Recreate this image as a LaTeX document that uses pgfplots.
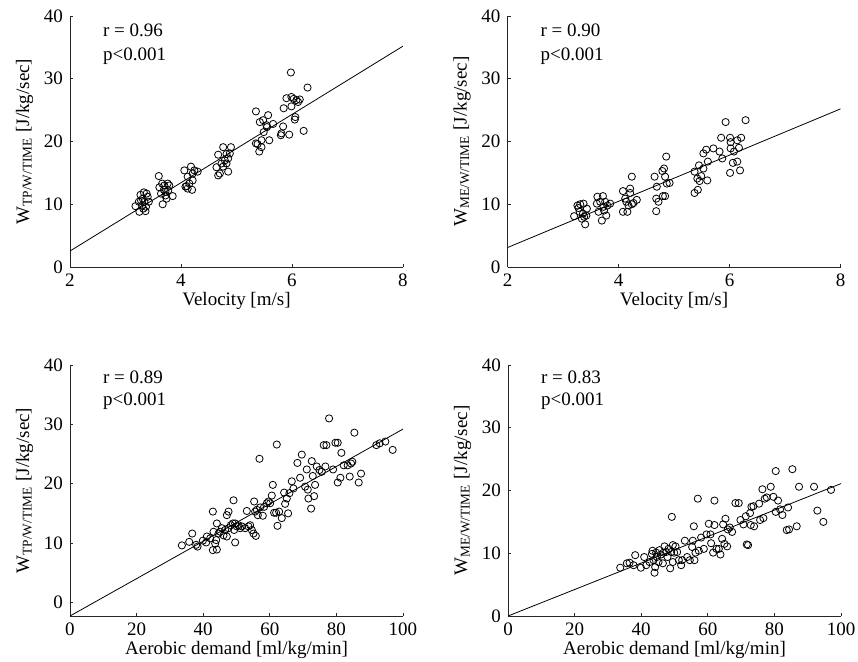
\documentclass[border=0pt]{standalone}
\usepackage{fontspec}
\setmainfont{Liberation Serif}
\usepackage{pgfplots}
\pgfplotsset{compat=1.18}
\newcommand\fs{\fontsize{9.5}{11.4}\selectfont}

\pgfplotsset{
  panel/.style={
    scale only axis, width=166.5pt, height=125.5pt,
    anchor=south west,
    axis x line*=bottom, axis y line*=left,
    axis line style={line width=0.4pt, black!85},
    tick align=inside, major tick length=1.5pt,
    every tick/.style={black!85, line width=0.4pt},
    ymax=40, ytick={0,10,20,30,40},
    tick label style={font=\fs},
    label style={font=\fs},
    xlabel shift=-4pt, ylabel shift=-1.5pt,
    /pgf/number format/assume math mode=true,
  },
  vel/.style={xmin=2, xmax=8, xtick={2,4,6,8}, ymin=0, xlabel={Velocity [m/s]}},
  aer/.style={xmin=0, xmax=100, xtick={0,20,40,60,80,100}, xlabel={Aerobic demand [ml/kg/min]}},
  dots/.style={only marks, mark=o, mark size=1.8pt, mark options={line width=0.4pt, black}},
  fit/.style={black, line width=0.4pt, no marks},
}

\begin{document}
\begin{tikzpicture}
\path[use as bounding box] (0,0) rectangle (429pt,-330.5pt);

% top left
\begin{axis}[panel, vel, at={(35pt,-133.5pt)},
  ylabel={W\textsubscript{TP/W/TIME} [J/kg/sec]}]
\addplot[dots] table {
x y
3.18 9.7
3.25 8.8
3.36 8.9
3.27 11.5
3.38 11.7
3.31 10.9
3.34 10.4
3.30 9.8
3.37 9.6
3.28 10.6
3.40 11.2
3.32 9.3
3.24 10.4
3.42 10.4
3.33 11.9
3.60 14.5
3.67 10.0
3.61 12.7
3.70 13.0
3.76 13.3
3.79 13.0
3.64 11.7
3.72 12.0
3.74 10.9
3.85 11.3
3.69 12.3
3.77 12.2
3.66 13.3
3.72 11.4
4.06 15.4
4.18 16.0
4.30 15.2
4.21 14.9
4.12 14.4
4.21 13.8
4.08 12.8
4.12 12.5
4.20 12.3
4.15 13.3
4.24 15.4
4.10 12.9
4.76 19.1
4.90 19.1
4.67 17.9
4.82 18.0
4.79 17.0
4.85 17.3
4.64 15.9
4.76 16.0
4.85 15.2
4.70 14.9
4.67 14.6
4.82 16.5
4.73 16.5
4.88 18.1
5.35 24.8
5.42 23.1
5.57 24.2
5.55 22.3
5.54 22.6
5.66 22.8
5.49 21.5
5.35 19.7
5.41 18.4
5.45 19.1
5.59 20.2
5.45 20.2
5.38 19.6
5.48 23.4
5.98 31.0
6.28 28.6
5.85 25.3
5.90 26.9
5.99 27.1
6.08 26.6
6.14 26.7
6.11 26.3
5.99 25.6
5.84 22.4
5.80 21.0
5.81 21.3
5.95 21.1
6.05 23.5
6.06 23.9
6.21 21.7
6.03 26.8
};
\addplot[fit] coordinates {(2,2.55) (8,35.2)};
\node[anchor=base west, font=\fs] at (rel axis cs:0.078,0.9175) {r = 0.96};
\node[anchor=base west, font=\fs] at (rel axis cs:0.078,0.821) {p<0.001};
\end{axis}

% top right
\begin{axis}[panel, vel, at={(253.75pt,-133.5pt)},
  ylabel={W\textsubscript{ME/W/TIME} [J/kg/sec]}]
\addplot[dots] table {
x y
3.20 8.1
3.28 9.4
3.31 10.0
3.37 10.1
3.40 6.8
3.34 7.7
3.43 9.3
3.36 8.5
3.30 8.8
3.38 8.0
3.26 9.8
3.42 8.2
3.62 11.2
3.72 11.3
3.67 10.4
3.76 10.4
3.64 8.8
3.70 7.4
3.78 8.2
3.73 9.6
3.80 9.8
3.85 10.1
3.61 10.1
3.74 9.0
4.24 14.4
4.21 12.5
4.21 11.8
4.08 12.1
4.12 10.9
4.08 8.8
4.16 8.8
4.18 9.8
4.24 10.0
4.33 10.7
4.14 10.4
4.27 10.2
4.86 17.6
4.65 14.4
4.82 15.7
4.79 15.3
4.84 14.4
4.87 13.3
4.69 12.8
4.92 13.4
4.68 10.9
4.72 10.4
4.80 11.3
4.84 11.3
4.68 8.9
5.37 11.8
5.43 12.3
5.45 16.2
5.37 15.2
5.42 14.1
5.49 14.5
5.53 15.7
5.58 18.7
5.53 18.1
5.61 16.8
5.60 13.8
5.46 13.7
5.71 18.9
5.93 23.1
6.29 23.4
5.85 20.6
6.01 20.6
6.02 19.9
6.14 20.2
6.21 20.6
5.82 18.4
5.87 17.3
6.02 18.9
6.08 18.4
6.17 19.0
6.06 16.6
6.14 16.8
6.01 15.0
6.19 15.4
};
\addplot[fit] coordinates {(2,3.1) (8,25.2)};
\node[anchor=base west, font=\fs] at (rel axis cs:0.078,0.9175) {r = 0.90};
\node[anchor=base west, font=\fs] at (rel axis cs:0.078,0.821) {p<0.001};
\end{axis}

% bottom left
\begin{axis}[panel, aer, ymin=-2.3, at={(35pt,-308pt)},
  ylabel={W\textsubscript{TP/W/TIME} [J/kg/sec]}]
\addplot[dots] table {
x y
33.6 9.6
35.8 10.2
36.7 11.6
37.9 9.7
38.3 9.4
39.9 10.4
40.9 10.1
41.1 11.1
42.1 10.8
42.9 15.3
42.9 8.8
44.1 8.9
43.6 9.9
43.9 10.5
43.1 11.9
44.1 13.3
44.6 11.6
45.1 11.9
45.6 12.5
46.1 11.3
46.6 12.2
47.1 14.7
47.6 15.3
47.1 11.1
47.6 12.5
48.3 13.0
48.9 13.3
49.1 17.2
49.3 12.2
49.6 10.1
49.6 13.3
50.1 12.8
50.6 13.0
51.1 12.5
51.6 12.8
52.6 12.5
53.1 15.4
53.6 12.8
54.1 13.0
54.6 12.2
55.1 11.6
55.8 11.2
55.3 17.0
55.6 15.3
56.1 15.6
56.4 14.7
56.9 24.2
57.1 16.0
57.9 14.6
58.3 16.1
59.1 16.7
59.6 17.0
60.1 16.7
60.6 18.0
60.9 19.8
61.3 15.1
61.9 15.1
62.1 26.6
62.3 12.9
62.8 15.3
63.6 14.2
64.3 18.5
64.6 16.6
65.1 17.5
65.5 15.0
65.9 18.4
66.6 20.4
67.1 19.2
68.3 23.5
69.1 21.0
69.6 24.9
70.6 19.5
71.1 22.4
71.4 19.0
71.6 17.5
72.4 15.8
72.6 23.8
72.9 21.3
73.3 17.9
73.6 19.8
74.1 22.9
74.9 22.3
75.6 22.0
76.2 26.5
77.0 26.5
76.7 22.9
77.8 31.0
79.0 22.4
79.7 26.9
80.4 26.9
80.4 20.2
81.2 21.0
81.5 25.2
82.2 23.1
83.4 23.1
84.0 21.2
84.4 23.4
84.8 23.7
85.4 28.6
86.7 20.2
87.4 21.7
92.0 26.5
93.0 26.8
94.7 27.1
96.9 25.7
};
\addplot[fit] coordinates {(0,-2.3) (100,29.2)};
\node[anchor=base west, font=\fs] at (rel axis cs:0.078,0.927) {r = 0.89};
\node[anchor=base west, font=\fs] at (rel axis cs:0.078,0.837) {p<0.001};
\end{axis}

% bottom right
\begin{axis}[panel, aer, ymin=0, at={(254pt,-308pt)},
  ylabel={W\textsubscript{ME/W/TIME} [J/kg/sec]}]
\addplot[dots] table {
x y
33.7 7.7
35.7 8.4
36.5 8.5
38.2 9.7
37.7 8.1
39.9 7.7
40.9 9.4
41.5 8.1
42.5 8.6
43.2 9.9
43.4 10.4
43.7 8.9
44.0 6.9
44.2 7.8
44.5 10.1
44.7 9.4
45.2 8.6
45.5 10.5
45.9 9.8
46.5 8.4
46.7 10.1
47.0 11.1
47.5 10.2
47.9 9.4
48.2 10.7
48.7 7.6
49.0 10.2
49.2 15.8
49.5 8.6
49.5 11.3
49.9 10.1
50.3 11.1
50.8 10.2
51.3 8.9
52.0 8.1
52.3 8.9
53.1 12.0
53.8 9.4
54.6 8.9
55.3 11.0
55.5 12.0
55.8 14.3
56.0 8.9
56.3 10.1
57.0 18.7
57.3 10.4
58.0 12.5
58.8 10.7
59.6 13.0
60.3 14.7
60.8 13.0
61.0 11.6
61.6 10.1
62.0 18.4
62.0 14.5
62.6 10.7
63.3 10.7
63.8 9.8
64.3 12.3
64.6 14.6
65.0 11.5
65.3 15.5
65.8 11.1
66.0 13.8
66.6 14.1
67.3 13.4
68.3 18.0
69.3 18.0
69.8 15.3
70.7 14.6
71.4 15.9
71.7 11.4
72.1 11.3
72.7 16.4
72.9 14.5
73.1 17.4
73.7 17.5
73.9 14.3
75.4 17.9
75.7 15.3
76.4 20.2
76.7 15.6
77.1 18.7
77.7 18.9
78.9 20.6
79.7 19.0
80.4 23.1
80.4 16.6
81.1 18.4
81.7 17.0
82.4 16.1
83.7 13.7
84.1 17.3
84.4 13.8
85.4 23.4
86.7 14.3
87.4 20.6
91.9 20.6
92.9 16.8
94.7 15.0
97.0 20.1
};
\addplot[fit] coordinates {(0,0) (100,21.1)};
\node[anchor=base west, font=\fs] at (rel axis cs:0.078,0.927) {r = 0.83};
\node[anchor=base west, font=\fs] at (rel axis cs:0.078,0.837) {p<0.001};
\end{axis}
\end{tikzpicture}
\end{document}
